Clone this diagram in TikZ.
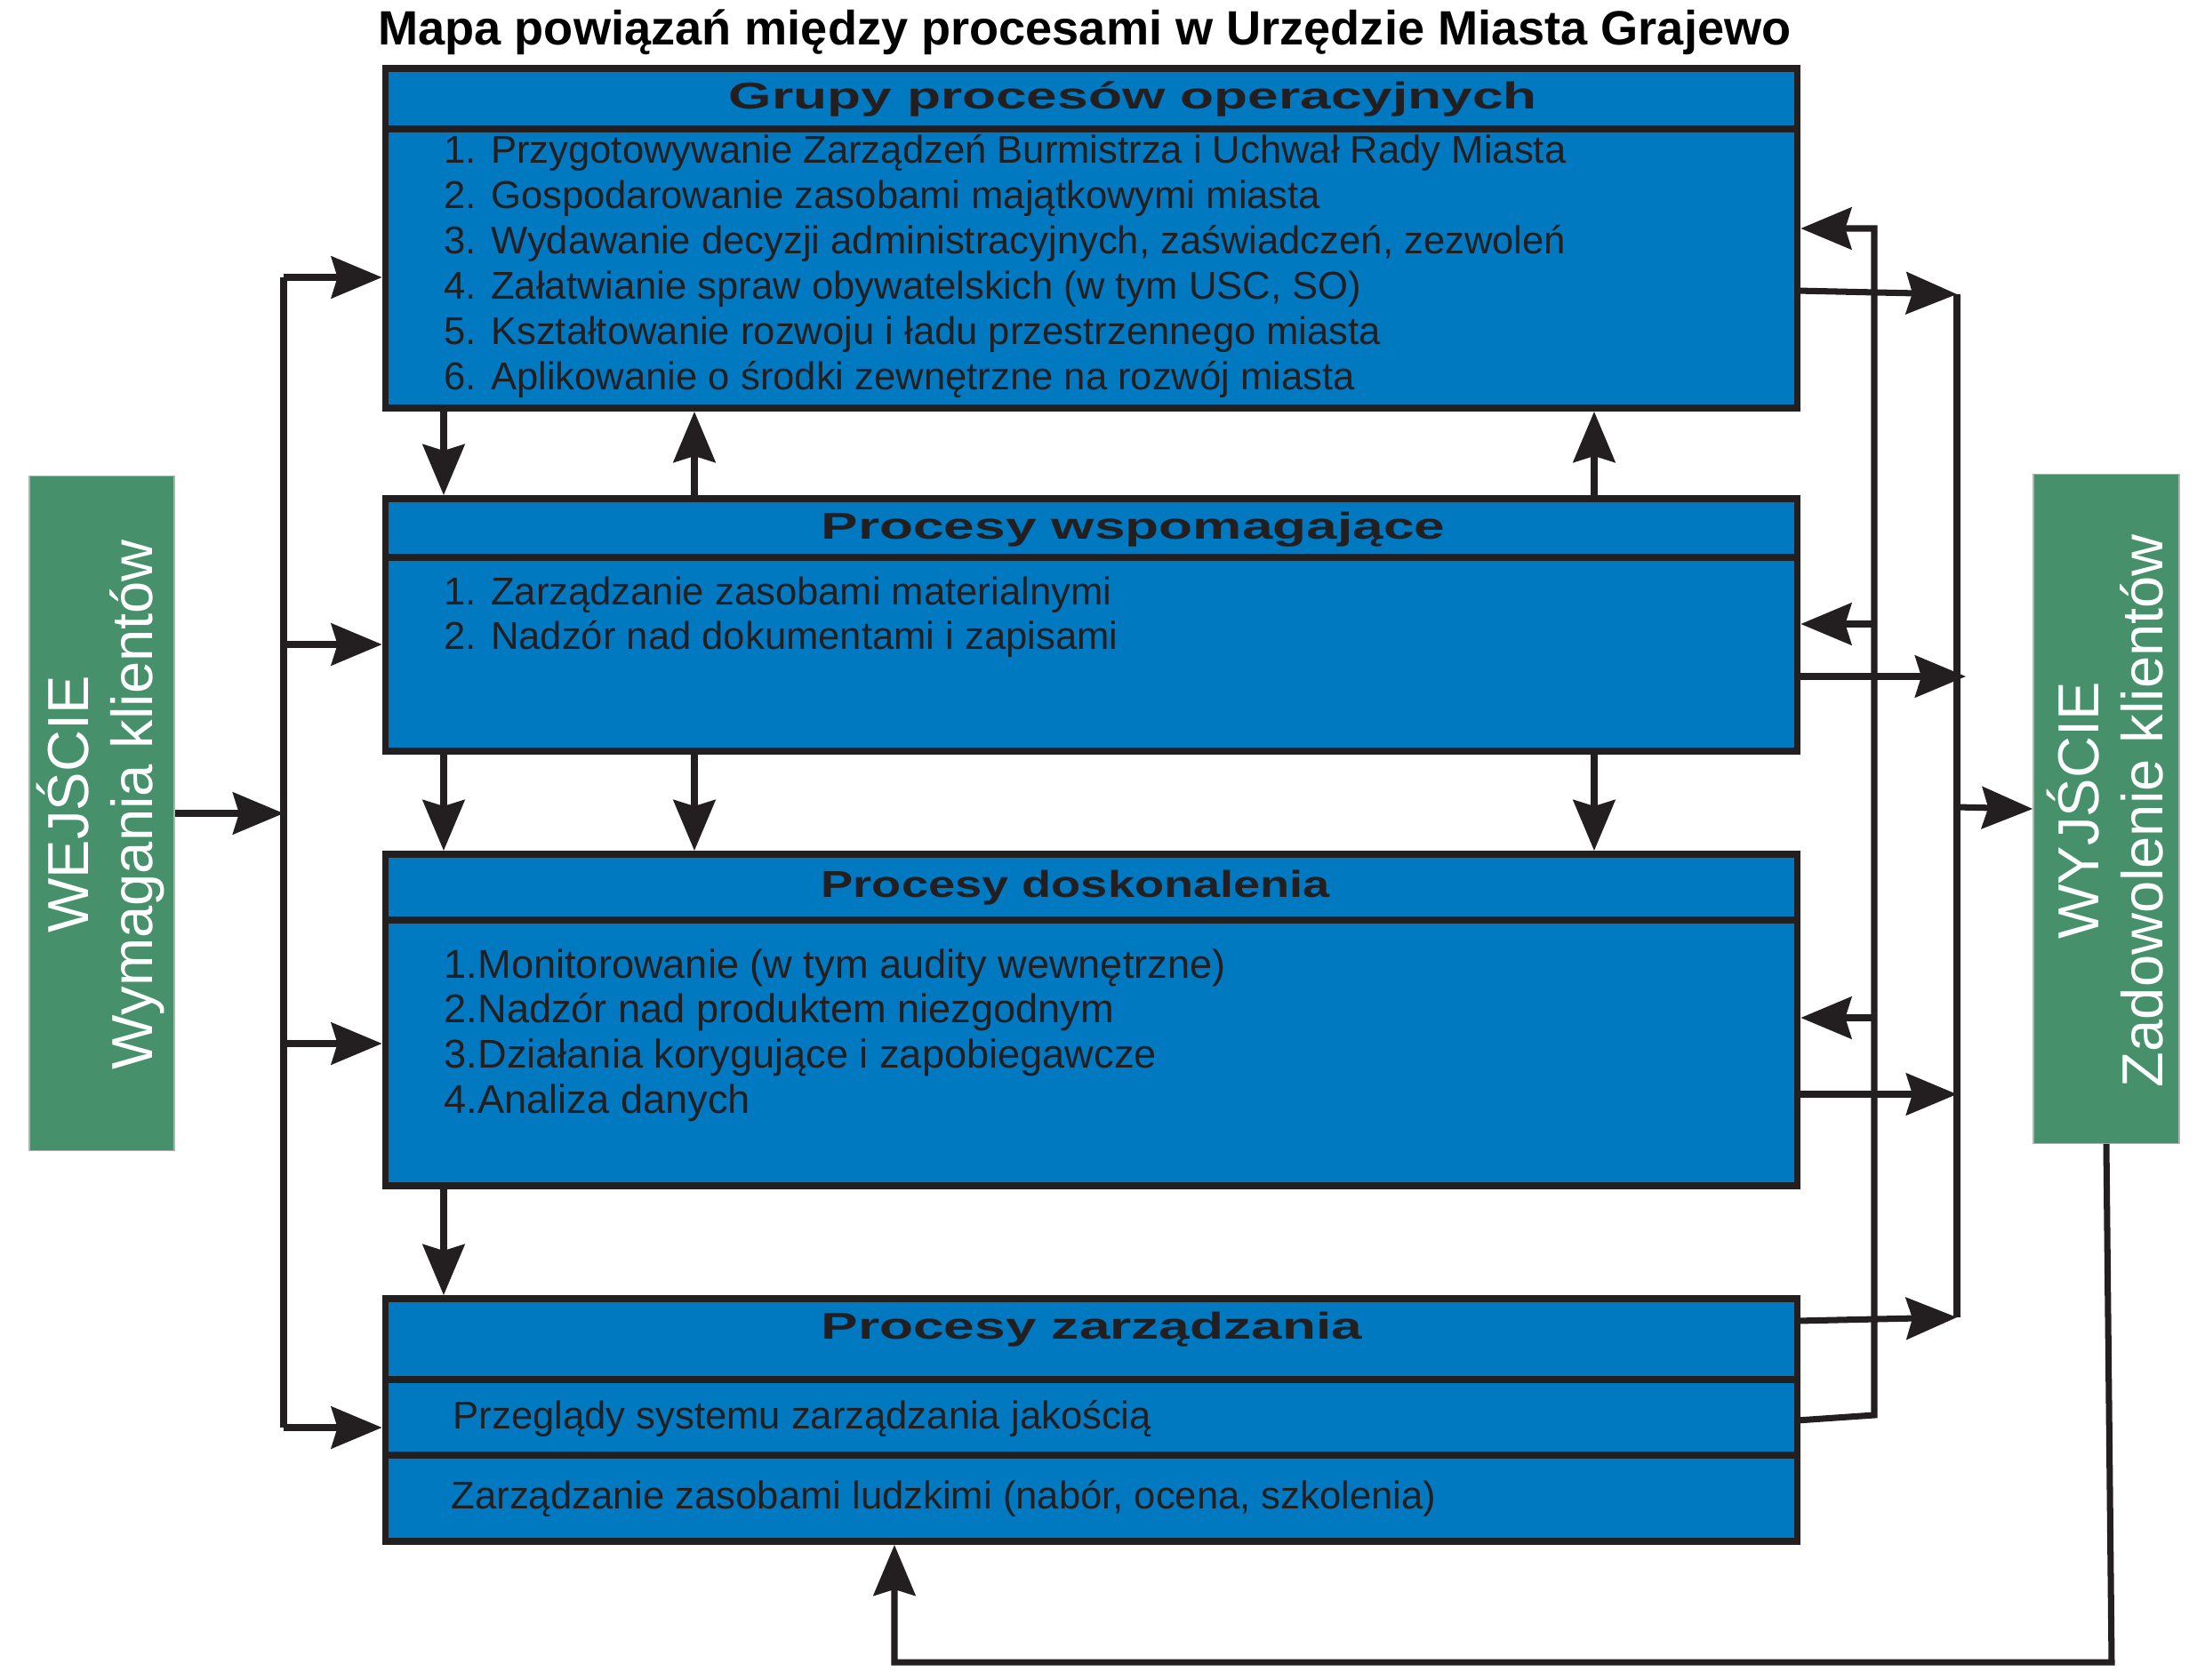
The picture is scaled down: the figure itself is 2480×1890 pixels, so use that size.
\documentclass[tikz,border=0pt]{standalone}
\usepackage{fontspec}
\setmainfont{Liberation Sans}
\newfontfamily\headfont[FakeStretch=1.48]{Liberation Sans}
\newfontfamily\headfontn[FakeStretch=1.29]{Liberation Sans}
\usetikzlibrary{arrows.meta}
\definecolor{boxblue}{HTML}{0079C1}
\definecolor{boxgreen}{HTML}{46916B}
\definecolor{ink}{HTML}{231F20}
\begin{document}
\begin{tikzpicture}[x=0.01cm,y=-0.01cm,
  box/.style={draw=ink, line width=2.2pt, fill=boxblue, inner sep=0pt},
  divider/.style={draw=ink, line width=2.2pt},
  conn/.style={draw=ink, line width=2pt},
  arr/.style={conn, -{Stealth[length=0.57cm,width=0.47cm,inset=0.07cm]}},
  item/.style={anchor=base west, inner sep=0pt, text=ink, font=\fontsize{12.4}{14.5}\selectfont},
  itemb/.style={item, font=\fontsize{12.85}{14.5}\selectfont},
  head/.style={anchor=base west, inner sep=0pt, text=ink, font=\headfont\bfseries\fontsize{11.95}{14}\selectfont},
  headn/.style={head, font=\headfontn\bfseries\fontsize{11.95}{14}\selectfont},
  side/.style={fill=boxgreen, draw=gray!60, line width=0.4pt, inner sep=0pt},
  sidetext/.style={rotate=90, text=white, align=center, inner sep=0pt, font=\fontsize{18.5}{20.5}\selectfont}
]
\useasboundingbox (0,0) rectangle (2480,1890);

% title
\node[anchor=base, inner sep=0pt, font=\bfseries\fontsize{15.4}{18}\selectfont] (title) at (1220,50) {Mapa powiązań między procesami w Urzędzie Miasta Grajewo};

% boxes
\node[box, minimum width=15.87cm, minimum height=3.82cm] (b1) at (1227.5,268) {};
\node[box, minimum width=15.87cm, minimum height=2.84cm] (b2) at (1227.5,703) {};
\node[box, minimum width=15.87cm, minimum height=3.73cm] (b3) at (1227.5,1147.5) {};
\node[box, minimum width=15.87cm, minimum height=2.73cm] (b4) at (1227.5,1597.5) {};
\draw[divider] (434,145) -- (2021,145);
\draw[divider] (434,627) -- (2021,627);
\draw[divider] (434,1035) -- (2021,1035);
\draw[divider] (434,1552) -- (2021,1552);
\draw[divider] (434,1637) -- (2021,1637);

% headers
\node[head] (h1) at (819,122) {Grupy procesów operacyjnych};
\node[head] (h2) at (923,606) {Procesy wspomagające};
\node[headn] (h3) at (923,1009) {Procesy doskonalenia};
\node[head] (h4) at (923,1506) {Procesy zarządzania};

% items
\node[item] (i11) at (499,183) {1. Przygotowywanie Zarządzeń Burmistrza i Uchwał Rady Miasta};
\node[item] (i12) at (499,234) {2. Gospodarowanie zasobami majątkowymi miasta};
\node[item] (i13) at (499,285) {3. Wydawanie decyzji administracyjnych, zaświadczeń, zezwoleń};
\node[item] (i14) at (499,336) {4. Załatwianie spraw obywatelskich (w tym USC, SO)};
\node[item] (i15) at (499,387) {5. Kształtowanie rozwoju i ładu przestrzennego miasta};
\node[item] (i16) at (499,438) {6. Aplikowanie o środki zewnętrzne na rozwój miasta};
\node[item] (i21) at (499,680) {1. Zarządzanie zasobami materialnymi};
\node[item] (i22) at (499,730) {2. Nadzór nad dokumentami i zapisami};
\node[itemb] (i31) at (499,1100) {1.Monitorowanie (w tym audity wewnętrzne)};
\node[itemb] (i32) at (499,1150) {2.Nadzór nad produktem niezgodnym};
\node[itemb] (i33) at (499,1201) {3.Działania korygujące i zapobiegawcze};
\node[itemb] (i34) at (499,1252) {4.Analiza danych};
\node[item] (i41) at (509,1607) {Przeglądy systemu zarządzania jakością};
\node[item] (i42) at (507,1697) {Zarządzanie zasobami ludzkimi (nabór, ocena, szkolenia)};

% side boxes
\node[side, minimum width=1.63cm, minimum height=7.58cm] (in) at (114.5,915) {};
\node[sidetext] (intext) at (113,905) {WEJŚCIE\\Wymagania klientów};
\node[side, minimum width=1.64cm, minimum height=7.52cm] (out) at (2369,910) {};
\node[sidetext] (outtext) at (2368,912) {WYJŚCIE\\Zadowolenie klientów};

% left bus
\coordinate (lb1) at (319,312);
\coordinate (lb2) at (319,725);
\coordinate (lb3) at (319,1174);
\coordinate (lb4) at (319,1606);
\coordinate (lbin) at (319,915);
\draw[conn] (lb1) -- (lb4);
\draw[arr] (lb1) -- (lb1 -| b1.west);
\draw[arr] (lb2) -- (lb2 -| b2.west);
\draw[arr] (lb3) -- (lb3 -| b3.west);
\draw[arr] (lb4) -- (lb4 -| b4.west);
\draw[arr] (in.east) -- (lbin);

% vertical arrows between boxes
\coordinate (va) at (499,0);
\coordinate (vb) at (781,0);
\coordinate (vc) at (1793,0);
\draw[arr] (b1.south -| va) -- (b2.north -| va);
\draw[arr] (b2.north -| vb) -- (b1.south -| vb);
\draw[arr] (b2.north -| vc) -- (b1.south -| vc);
\draw[arr] (b2.south -| va) -- (b3.north -| va);
\draw[arr] (b2.south -| vb) -- (b3.north -| vb);
\draw[arr] (b2.south -| vc) -- (b3.north -| vc);
\draw[arr] (b3.south -| va) -- (b4.north -| va);

% inner right bus (feedback from management review)
\coordinate (b4q) at (2021,1598);
\coordinate (rb1) at (2108,257);
\coordinate (rb2) at (2108,702);
\coordinate (rb3) at (2108,1145);
\coordinate (rb4) at (2108,1592);
\draw[arr] (b4q) -- (rb4) -- (rb1) -- (rb1 -| b1.east);
\draw[arr] (rb2) -- (rb2 -| b2.east);
\draw[arr] (rb3) -- (rb3 -| b3.east);

% outer right bus (outputs)
\coordinate (b1o) at (2021,327);
\coordinate (b2o) at (2021,761);
\coordinate (b3o) at (2021,1231);
\coordinate (b4o) at (2021,1486);
\coordinate (ob1) at (2201,331);
\coordinate (ob2) at (2211,761);
\coordinate (ob3) at (2201,1231);
\coordinate (ob4) at (2201,1482);
\coordinate (obo) at (2201,908);
\draw[conn] (ob1) -- (ob4);
\draw[arr] (b1o) -- (ob1);
\draw[arr] (b2o) -- (ob2);
\draw[arr] (b3o) -- (ob3);
\draw[arr] (b4o) -- (ob4);
\draw[arr] (obo) -- (out.west);

% bottom feedback
\coordinate (fb1) at (2375,1870);
\coordinate (fb2) at (1006,1870);
\draw[arr] (out.south) -- (fb1) -- (fb2) -- (fb2 |- b4.south);
\end{tikzpicture}
\end{document}
